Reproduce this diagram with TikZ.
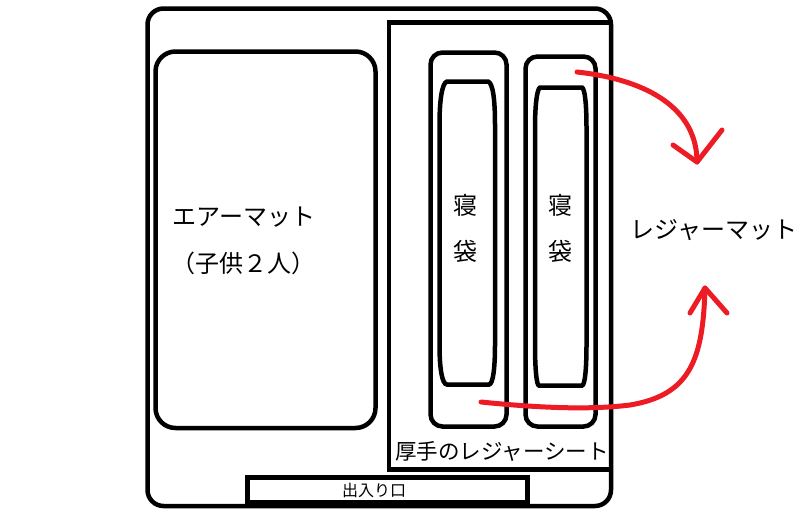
\documentclass[tikz,border=0pt]{standalone}
\usepackage{fontspec}
\newfontfamily\jp{Noto Sans CJK JP}
\definecolor{paintred}{RGB}{237,28,36}
\begin{document}
\begin{tikzpicture}[x=1pt,y=-1pt,
  blk/.style={draw=black,line width=4.5pt},
  redline/.style={draw=paintred,line width=5pt,line cap=round,line join=round},
  lbl/.style={inner sep=0pt,font=\jp\fontsize{24}{27}\selectfont}]
\useasboundingbox (0,0) rectangle (800,515);
% outer tent
\draw[blk,rounded corners=16pt] (147.5,8.5) rectangle (611,506);
% sheet
\draw[blk] (389,22.5) rectangle (611,469.5);
% air mat
\draw[blk,rounded corners=20pt] (155.5,51.5) rectangle (375.5,428);
% sleeping bag outers
\draw[blk,rounded corners=12pt] (430.5,52.5) rectangle (506.5,426.5);
\draw[blk,rounded corners=12pt] (525.5,56.5) rectangle (595.5,426.5);
% sleeping bag inners
\draw[blk] (447,81.5) -- (488,81.5) .. controls (493,83) and (495,100) .. (495,125)
  -- (495,345) .. controls (495,368) and (493,384.5) .. (489,384.5)
  -- (447,384.5) .. controls (442,384.5) and (439.5,368) .. (439.5,345)
  -- (439.5,125) .. controls (439.5,100) and (442,83) .. (447,81.5) -- cycle;
\draw[blk] (540,87.5) -- (582,87.5) .. controls (585,89) and (586.5,105) .. (586.5,128)
  -- (586.5,345) .. controls (586.5,368) and (585,385.5) .. (582,385.5)
  -- (539,385.5) .. controls (536.5,385.5) and (535,368) .. (535,345)
  -- (535,128) .. controls (535,105) and (537,89) .. (540,87.5) -- cycle;
% door
\draw[blk] (247.5,477.5) rectangle (527.5,502.5);
% labels
\node[lbl] (air) at (244,217) {エアーマット};
\node[lbl] (kids) at (243,263) {（子供２人）};
\node[lbl] (b1a) at (465,205) {寝};
\node[lbl] (b1b) at (465,251) {袋};
\node[lbl] (b2a) at (560,205) {寝};
\node[lbl] (b2b) at (560,251) {袋};
\node[lbl] (leisure) at (714,230) {レジャーマット};
\node[inner sep=0pt,font=\jp\fontsize{21.5}{24}\selectfont] (sheet) at (502,451) {厚手のレジャーシート};
\node[inner sep=0pt,font=\jp\fontsize{16}{18}\selectfont] (door) at (374,490) {出入り口};
% red arrows
\coordinate (s1) at (577,72);
\coordinate (t1) at (697,162);
\coordinate (l1) at (673,145);
\coordinate (r1) at (722,130);
\draw[redline] (s1) .. controls (650,80) and (697,110) .. (t1);
\draw[redline] (l1) -- (t1) -- (r1);
\coordinate (s2) at (481,402);
\coordinate (m2) at (630,405);
\coordinate (t2) at (705,288);
\coordinate (l2) at (690,313);
\coordinate (r2) at (727,313);
\draw[redline] (s2) .. controls (540,408) and (590,410) .. (m2) .. controls (690,395) and (703,360) .. (t2);
\draw[redline] (l2) -- (t2) -- (r2);
\end{tikzpicture}
\end{document}
